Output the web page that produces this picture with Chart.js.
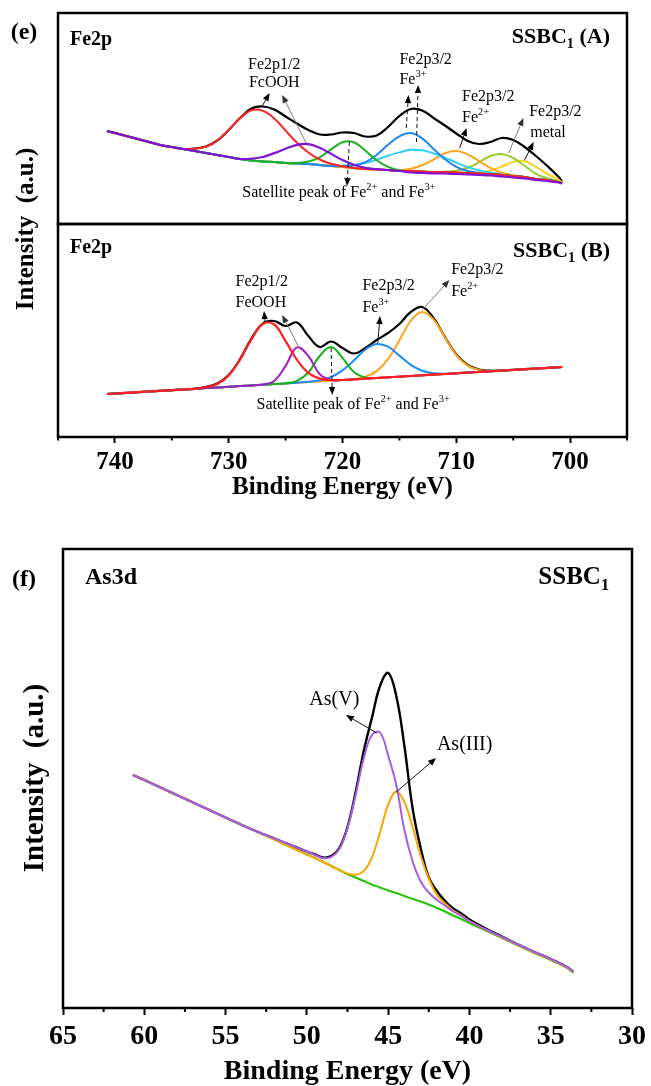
<!DOCTYPE html>
<html>
<head>
<meta charset="utf-8">
<title>Fe2p / As3d XPS</title>
<script src="https://cdn.jsdelivr.net/npm/chart.js@4.4.1/dist/chart.umd.min.js"></script>
<style>
  html, body { margin: 0; padding: 0; background: #fff; }
  #wrap { position: relative; width: 651px; height: 1086px; }
  #wrap canvas { position: absolute; left: 0; top: 0; }
</style>
</head>
<body>
<div id="wrap">
  <canvas id="feA" width="651" height="1086"></canvas>
  <canvas id="feB" width="651" height="1086"></canvas>
  <canvas id="as3d" width="651" height="1086"></canvas>
</div>
<script>
// ---- Fe2p spectra (binding energy, eV) ----
const energyFe = [740.7, 740, 739, 738, 737, 736, 735, 734, 733, 732, 731, 730, 729, 728, 727, 726, 725, 724, 723, 722,
  721, 720, 719, 718, 717, 716, 715, 714, 713, 712, 711, 710, 709, 708, 707, 706, 705, 704, 703, 702, 701, 700.7];
const feTicks = [740, 730, 720, 710, 700];
const feMinor = [745, 735, 725, 715, 705, 695];

// sample A
const feA_env = [93, 91, 88, 85, 82, 79, 77, 75, 75.5, 77.5, 83.5, 94, 106, 115.5, 117.5, 114.5, 107.5, 100.5, 94, 89.5,
  89.5, 91.5, 91, 87.5, 88.5, 97, 108, 115, 113.5, 106, 98.5, 90.5, 83, 80, 82, 86, 84, 77, 68, 58, 47, 42.5];
const feA_feooh = [93, 91, 88, 85, 82, 79, 77, 75, 75.3, 77.4, 83.5, 94, 105.8, 113.7, 113.1, 105.6, 93.4, 81.3, 71.5, 64.5,
  60.3, 57.8, 56, 55, 54.5, 54, 53, 53, 52.5, 52, 52, 51.5, 51, 50.5, 50, 49, 48, 47, 45, 44, 42, 41];
const feA_sat1 = [93, 91, 88, 85, 82, 79, 77, 75, 73, 71, 69, 67, 65, 65.4, 67, 70.9, 75.3, 79.2, 79.9, 76.2,
  70.1, 63.9, 59.2, 56.2, 54.9, 54, 53, 51.5, 51, 50.5, 50.5, 50, 49.5, 49, 48.5, 47.5, 46.5, 45.5, 44, 43, 41.5, 40.5];
const feA_sat2 = [93, 91, 88, 85, 82, 79, 77, 75, 73, 71, 69, 67, 65, 63.5, 62.5, 62, 61, 61, 62.5, 66.7,
  74.6, 81.8, 81.7, 73.5, 63.7, 57.2, 53.7, 53, 52.5, 52, 52, 51.5, 51, 50.5, 50, 49, 48, 47, 45, 44, 42, 41];
const feA_fe3a = [93, 91, 88, 85, 82, 79, 77, 75, 73, 71, 69, 67, 65, 63.5, 62.5, 62, 61, 60.5, 60, 59,
  58, 57.7, 58.5, 61.8, 69.1, 79.2, 87.7, 91, 85.6, 75.1, 64.8, 57.2, 53, 51.1, 50, 49, 48, 47, 45, 44, 42, 41];
const feA_fe3b = [93, 91, 88, 85, 82, 79, 77, 75, 73, 71, 69, 67, 65, 63.5, 62.5, 62, 61, 60.5, 60, 59,
  58, 58.5, 59.1, 60.9, 64.4, 68.4, 71.6, 74.2, 73.7, 70.6, 66.4, 61.4, 56.9, 53.6, 51.5, 49.6, 48, 47, 45, 44, 42, 41];
const feA_fe2 = [93, 91, 88, 85, 82, 79, 77, 75, 73, 71, 69, 67, 65, 63.5, 62.5, 62, 61, 60.5, 60, 59,
  58, 57, 56, 55, 54.5, 54, 53.7, 55.3, 58.7, 64.4, 70.7, 73, 69.7, 62.9, 56.2, 51.3, 48.7, 47, 45, 44, 42, 41];
const feA_metal1 = [93, 91, 88, 85, 82, 79, 77, 75, 73, 71, 69, 67, 65, 63.5, 62.5, 62, 61, 60.5, 60, 59,
  58, 57, 56, 55, 54.5, 54, 53, 53, 52.5, 52, 52.4, 53.3, 56.2, 61.8, 68, 70, 66, 58.3, 50.2, 45.8, 42.4, 41];
const feA_metal2 = [93, 91, 88, 85, 82, 79, 77, 75, 73, 71, 69, 67, 65, 63.5, 62.5, 62, 61, 60.5, 60, 59,
  58, 57, 56, 55, 54.5, 54, 53, 53, 52.5, 52, 52, 51.5, 51, 51.5, 53.5, 57.5, 62.1, 62.9, 57.1, 50.2, 44.2, 41.8];

// sample B
const feB_env = [43, 43.5, 44.1, 44.8, 45.5, 46.2, 46.8, 47.5, 48.2, 50, 53.5, 62, 78, 98.5, 113.5, 116, 111, 114.5, 101, 90,
  95.5, 89, 83.5, 89, 97, 104, 113, 125, 130, 119, 100, 82.5, 72, 67.5, 66.3, 66.6, 67.1, 67.8, 68.4, 69.1, 69.8, 70];
const feB_feooh = [43, 43.5, 44.1, 44.8, 45.5, 46.2, 46.8, 47.5, 48.2, 49.8, 53.1, 61.6, 77.4, 97.7, 113, 112.5, 95.8, 77.2, 64.2, 58.4,
  56.9, 57, 57.6, 58.3, 59, 59.7, 60.3, 61, 61.7, 62.4, 63, 63.7, 64.4, 65.1, 65.7, 66.4, 67.1, 67.8, 68.4, 69.1, 69.8, 70];
const feB_sat1 = [43, 43.5, 44.1, 44.8, 45.5, 46.2, 46.8, 47.5, 48.2, 48.9, 49.5, 50.2, 50.9, 51.6, 52.4, 56.1, 71.1, 89.6, 81, 62.7,
  57, 57, 57.6, 58.3, 59, 59.7, 60.3, 61, 61.7, 62.4, 63, 63.7, 64.4, 65.1, 65.7, 66.4, 67.1, 67.8, 68.4, 69.1, 69.8, 70];
const feB_sat2 = [43, 43.5, 44.1, 44.8, 45.5, 46.2, 46.8, 47.5, 48.2, 48.9, 49.5, 50.2, 50.9, 51.6, 52.2, 52.9, 53.8, 56.1, 64.5, 81,
  89.9, 79.1, 64.9, 59.5, 59.1, 59.7, 60.3, 61, 61.7, 62.4, 63, 63.7, 64.4, 65.1, 65.7, 66.4, 67.1, 67.8, 68.4, 69.1, 69.8, 70];
const feB_fe3 = [43, 43.5, 44.1, 44.8, 45.5, 46.2, 46.8, 47.5, 48.2, 48.9, 49.5, 50.2, 50.9, 51.6, 52.2, 52.9, 53.6, 54.3, 55.2, 56.7,
  60, 66.6, 76.6, 87.3, 93, 90.3, 81.4, 72.2, 66.3, 63.8, 63.3, 63.7, 64.4, 65.1, 65.7, 66.4, 67.1, 67.8, 68.4, 69.1, 69.8, 70];
const feB_fe2 = [43, 43.5, 44.1, 44.8, 45.5, 46.2, 46.8, 47.5, 48.2, 48.9, 49.5, 50.2, 50.9, 51.6, 52.2, 52.9, 53.6, 54.3, 54.9, 55.6,
  56.3, 57, 58, 60.3, 65.9, 77.9, 96.7, 116.1, 125, 117.5, 99.4, 81.9, 71.3, 67.1, 66.1, 66.4, 67.1, 67.8, 68.4, 69.1, 69.8, 70];

// ---- As3d spectrum ----
const energyAs = [60.7, 60, 59, 58, 57, 56, 55, 54, 53, 52, 51, 50, 49.5, 49, 48.5, 48, 47.5, 47, 46.5, 46,
  45.5, 45, 44.5, 44, 43.5, 43, 42.5, 42, 41.5, 41, 40.5, 40, 39, 38, 37, 36, 35, 34, 33.6];
const asTicks = [65, 60, 55, 50, 45, 40, 35, 30];
const asMinor = [62.5, 57.5, 52.5, 47.5, 42.5, 37.5, 32.5];

const as_env = [233, 228, 220.5, 213, 205.5, 198, 190.5, 183, 176, 169.5, 163, 156.5, 153.5, 150.5, 152, 160, 181, 216, 257, 290,
  322, 335, 312, 262, 200, 160, 130.5, 117, 107, 99.5, 94.5, 88.5, 79.5, 71.5, 63.5, 56, 49, 41, 36];
const as_v = [233, 228, 220.5, 213, 205.5, 198, 190.5, 183, 176, 169.5, 163, 156.5, 153, 150, 151, 159, 180, 213, 249.5, 273,
  275.5, 252.5, 223, 178, 147, 126.5, 115.5, 108, 102.5, 96.5, 92, 87, 78.5, 71, 63.5, 56, 49, 41, 36];
const as_iii = [233, 228, 220.5, 213, 205.5, 198, 190.5, 183, 176, 168.5, 161, 153.5, 150, 146, 142, 138, 134.6, 133.3, 136.9, 150.3,
  175.6, 203.4, 216.5, 206, 181.2, 152.3, 129.5, 113, 104.5, 97.5, 92.5, 87, 78.5, 70.5, 63, 55.5, 48.5, 40.5, 35.5];
const as_bg = [233, 228, 220.5, 213, 205.5, 198, 190.5, 183, 176, 168.5, 161, 153.5, 150, 146, 142, 138, 134, 130.5, 127, 123.5,
  120.5, 117.5, 115, 112, 109, 106.5, 103.5, 100, 96.5, 92.5, 89, 85, 77.5, 70, 62.5, 55, 48, 40, 35];

const serif = "'Liberation Serif', 'Times New Roman', serif";
Chart.defaults.font.family = serif;
Chart.defaults.color = '#000';

// text with optional super/subscript pieces: [['Fe'], ['3+', 'sup']]
function rich(ctx, parts, x, y, size, weight, align) {
  const small = size * 0.65;
  const fontOf = s => `${weight} ${s}px ${serif}`;
  let total = 0;
  parts.forEach(([t, k]) => { ctx.font = fontOf(k ? small : size); total += ctx.measureText(t).width; });
  let cx = align === 'right' ? x - total : align === 'center' ? x - total / 2 : x;
  ctx.textAlign = 'left';
  ctx.textBaseline = 'middle';
  ctx.fillStyle = '#000';
  parts.forEach(([t, k]) => {
    ctx.font = fontOf(k ? small : size);
    const dy = k === 'sup' ? -0.36 * size : k === 'sub' ? 0.32 * size : 0;
    ctx.fillText(t, cx, y + dy);
    cx += ctx.measureText(t).width;
  });
}

function arrow(ctx, x1, y1, x2, y2, style) {
  const ang = Math.atan2(y2 - y1, x2 - x1);
  const head = 8, half = 3.2;
  const bx = x2 - head * Math.cos(ang), by = y2 - head * Math.sin(ang);
  const gray = style === 'gray';
  ctx.save();
  ctx.lineWidth = 1;
  ctx.strokeStyle = gray ? '#7a7a7a' : '#111';
  ctx.setLineDash(style === 'dash' ? [4, 3] : []);
  ctx.beginPath();
  ctx.moveTo(x1, y1);
  ctx.lineTo(bx, by);
  ctx.stroke();
  ctx.setLineDash([]);
  ctx.fillStyle = gray ? '#333' : '#000';
  ctx.beginPath();
  ctx.moveTo(x2, y2);
  ctx.lineTo(bx - half * Math.sin(ang), by + half * Math.cos(ang));
  ctx.lineTo(bx + half * Math.sin(ang), by - half * Math.cos(ang));
  ctx.closePath();
  ctx.fill();
  ctx.restore();
}

// frame, minor ticks, peak labels and panel captions
const deco = {
  id: 'deco',
  afterDatasetsDraw(chart, args, o) {
    const { ctx, chartArea: a, scales: { x, y } } = chart;
    ctx.save();
    ctx.strokeStyle = '#000';
    ctx.lineWidth = 2.5;
    ctx.strokeRect(a.left, a.top, a.right - a.left, a.bottom - a.top);

    if (o.minor) {
      ctx.lineWidth = 2;
      o.minor.forEach(v => {
        const px = x.getPixelForValue(v);
        ctx.beginPath();
        ctx.moveTo(px, a.bottom);
        ctx.lineTo(px, a.bottom + o.minorLen);
        ctx.stroke();
      });
    }

    (o.arrows || []).forEach(r => arrow(ctx,
      x.getPixelForValue(r.from[0]), y.getPixelForValue(r.from[1]),
      x.getPixelForValue(r.to[0]), y.getPixelForValue(r.to[1]), r.style));

    (o.notes || []).forEach(n => rich(ctx, n.parts,
      x.getPixelForValue(n.at[0]), y.getPixelForValue(n.at[1]), o.noteSize, 'normal', n.align || 'left'));

    const c = o.corner;
    rich(ctx, [[c.text]], a.left + c.dx, a.top + c.dy, c.size, 'bold', 'left');
    const s = o.sample;
    rich(ctx, s.parts, a.right - s.dx, a.top + s.dy, s.size, 'bold', 'right');

    if (o.letter) rich(ctx, [[o.letter.text]], o.letter.x, o.letter.y, o.letter.size, 'bold', 'center');
    if (o.yTitle) {
      ctx.save();
      ctx.translate(o.yTitle.x, o.yTitle.y);
      ctx.rotate(-Math.PI / 2);
      rich(ctx, [['Intensity  (a.u.)']], 0, 0, o.yTitle.size, 'bold', 'center');
      ctx.restore();
    }
    ctx.restore();
  }
};

function line(xs, ys, color, width, order) {
  return {
    data: xs.map((e, k) => ({ x: e, y: ys[k] })),
    borderColor: color,
    borderWidth: width,
    pointRadius: 0,
    fill: false,
    tension: 0.4,
    borderJoinStyle: 'round',
    order
  };
}

function xAxis(min, max, ticks, size, tickLen, height, titlePad) {
  return {
    type: 'linear', reverse: true, min, max,
    afterBuildTicks: s => { s.ticks = ticks.map(v => ({ value: v })); },
    afterFit: s => { s.height = height; },
    ticks: { font: { size, weight: 'bold' }, color: '#000', padding: 5, maxRotation: 0, autoSkip: false },
    grid: { drawOnChartArea: false, drawTicks: true, tickLength: tickLen, tickWidth: 2, tickColor: '#000' },
    border: { display: false },
    title: {
      display: true, text: 'Binding Energy (eV)', color: '#000',
      font: { size, weight: 'bold', lineHeight: titlePad.lh },
      padding: { top: 0, bottom: titlePad.bottom }
    }
  };
}

function baseOptions(padding, scales, decoOpts) {
  return {
    responsive: false,
    animation: false,
    events: [],
    layout: { padding },
    scales,
    plugins: { legend: { display: false }, tooltip: { enabled: false }, deco: decoOpts }
  };
}

// upper Fe2p panel (A)
new Chart(document.getElementById('feA'), {
  type: 'line',
  data: {
    datasets: [
      line(energyFe, feA_sat1, '#7f12d6', 2.2, 0),
      line(energyFe, feA_feooh, '#ff2323', 2, 1),
      line(energyFe, feA_sat2, '#1cb31c', 2, 2),
      line(energyFe, feA_fe3a, '#1f86f0', 2, 3),
      line(energyFe, feA_fe3b, '#2ccdf7', 2, 4),
      line(energyFe, feA_fe2, '#ffa31a', 2, 5),
      line(energyFe, feA_metal1, '#9acd32', 2, 6),
      line(energyFe, feA_metal2, '#ffcf1f', 2, 7),
      line(energyFe, feA_env, '#000000', 2.2, 8)
    ]
  },
  options: baseOptions({ top: 13, left: 58, right: 24, bottom: 862 }, {
    x: { type: 'linear', reverse: true, min: 695, max: 745, display: false },
    y: { min: 0, max: 211, display: false }
  }, {
    noteSize: 16,
    corner: { text: 'Fe2p', dx: 12, dy: 27, size: 20 },
    sample: { parts: [['SSBC'], ['1', 'sub'], [' (A)']], dx: 17, dy: 24, size: 22 },
    letter: { text: '(e)', x: 24, y: 33, size: 24 },
    yTitle: { x: 27, y: 229, size: 25 },
    notes: [
      { at: [726.0, 159], parts: [['Fe2p1/2']], align: 'center' },
      { at: [726.0, 141], parts: [['FcOOH']], align: 'center' },
      { at: [715.0, 164], parts: [['Fe2p3/2']] },
      { at: [715.0, 144], parts: [['Fe'], ['3+', 'sup']] },
      { at: [709.5, 127], parts: [['Fe2p3/2']] },
      { at: [709.5, 106], parts: [['Fe'], ['2+', 'sup']] },
      { at: [703.6, 112], parts: [['Fe2p3/2']] },
      { at: [703.5, 91], parts: [['metal']] },
      { at: [728.8, 31], parts: [['Satellite peak of Fe'], ['2+', 'sup'], [' and Fe'], ['3+', 'sup']] }
    ],
    arrows: [
      { from: [727.1, 117], to: [726.4, 131], style: 'solid' },
      { from: [723.2, 81], to: [725.3, 129], style: 'gray' },
      { from: [714.4, 96], to: [714.2, 129], style: 'dash' },
      { from: [713.5, 82], to: [713.35, 139], style: 'dash' },
      { from: [709.7, 76], to: [709.1, 96], style: 'solid' },
      { from: [705.4, 71], to: [704.1, 106], style: 'gray' },
      { from: [704.0, 64], to: [703.2, 82], style: 'solid' },
      { from: [719.4, 82], to: [719.6, 38], style: 'dash' }
    ]
  }),
  plugins: [deco]
});

// lower Fe2p panel (B) carries the shared energy axis
new Chart(document.getElementById('feB'), {
  type: 'line',
  data: {
    datasets: [
      line(energyFe, feB_feooh, '#ff2020', 2.2, 0),
      line(energyFe, feB_sat1, '#a020c8', 2, 1),
      line(energyFe, feB_sat2, '#16b316', 2, 2),
      line(energyFe, feB_fe3, '#1e8cf0', 2, 3),
      line(energyFe, feB_fe2, '#ffa51a', 2, 4),
      line(energyFe, feB_env, '#000000', 2.2, 5)
    ]
  },
  options: baseOptions({ top: 224, left: 58, right: 24, bottom: 566 }, {
    x: xAxis(695, 745, feTicks, 25, 6, 83, { lh: 1.2, bottom: 17 }),
    y: { min: 0, max: 213, display: false }
  }, {
    noteSize: 16,
    minor: feMinor, minorLen: 3.5,
    corner: { text: 'Fe2p', dx: 12, dy: 24, size: 20 },
    sample: { parts: [['SSBC'], ['1', 'sub'], [' (B)']], dx: 17, dy: 27, size: 22 },
    notes: [
      { at: [729.4, 155], parts: [['Fe2p1/2']] },
      { at: [729.4, 134], parts: [['FeOOH']] },
      { at: [718.25, 151], parts: [['Fe2p3/2']] },
      { at: [718.25, 129], parts: [['Fe'], ['3+', 'sup']] },
      { at: [710.45, 167], parts: [['Fe2p3/2']] },
      { at: [710.45, 145], parts: [['Fe'], ['2+', 'sup']] },
      { at: [727.55, 32], parts: [['Satellite peak of Fe'], ['2+', 'sup'], [' and Fe'], ['3+', 'sup']] }
    ],
    arrows: [
      { from: [726.8, 115], to: [726.9, 126], style: 'solid' },
      { from: [723.8, 89], to: [725.3, 122], style: 'gray' },
      { from: [716.9, 94], to: [716.7, 121], style: 'solid' },
      { from: [713.0, 127], to: [710.6, 157], style: 'gray' },
      { from: [721.0, 89], to: [720.9, 42], style: 'dash' }
    ]
  }),
  plugins: [deco]
});

// As3d panel (f)
new Chart(document.getElementById('as3d'), {
  type: 'line',
  data: {
    datasets: [
      line(energyAs, as_v, '#a45ee5', 2, 0),
      line(energyAs, as_iii, '#ffa500', 2, 1),
      line(energyAs, as_env, '#000000', 2.4, 2),
      line(energyAs, as_bg, '#22c400', 2, 3)
    ]
  },
  options: baseOptions({ top: 549, left: 63, right: 17, bottom: 0 }, {
    x: xAxis(30, 65, asTicks, 28, 7, 78, { lh: 1, bottom: 0 }),
    y: { min: 0, max: 459, display: false }
  }, {
    noteSize: 20,
    minor: asMinor, minorLen: 4,
    corner: { text: 'As3d', dx: 22, dy: 29, size: 24 },
    sample: { parts: [['SSBC'], ['1', 'sub']], dx: 23, dy: 29, size: 25 },
    letter: { text: '(f)', x: 24, y: 580, size: 24 },
    yTitle: { x: 36, y: 778, size: 29 },
    notes: [
      { at: [49.85, 308], parts: [['As(V)']] },
      { at: [42.0, 263], parts: [['As(III)']] }
    ],
    arrows: [
      { from: [45.7, 275], to: [47.6, 293], style: 'solid' },
      { from: [44.5, 216], to: [42.05, 250], style: 'solid' }
    ]
  }),
  plugins: [deco]
});
</script>
</body>
</html>
